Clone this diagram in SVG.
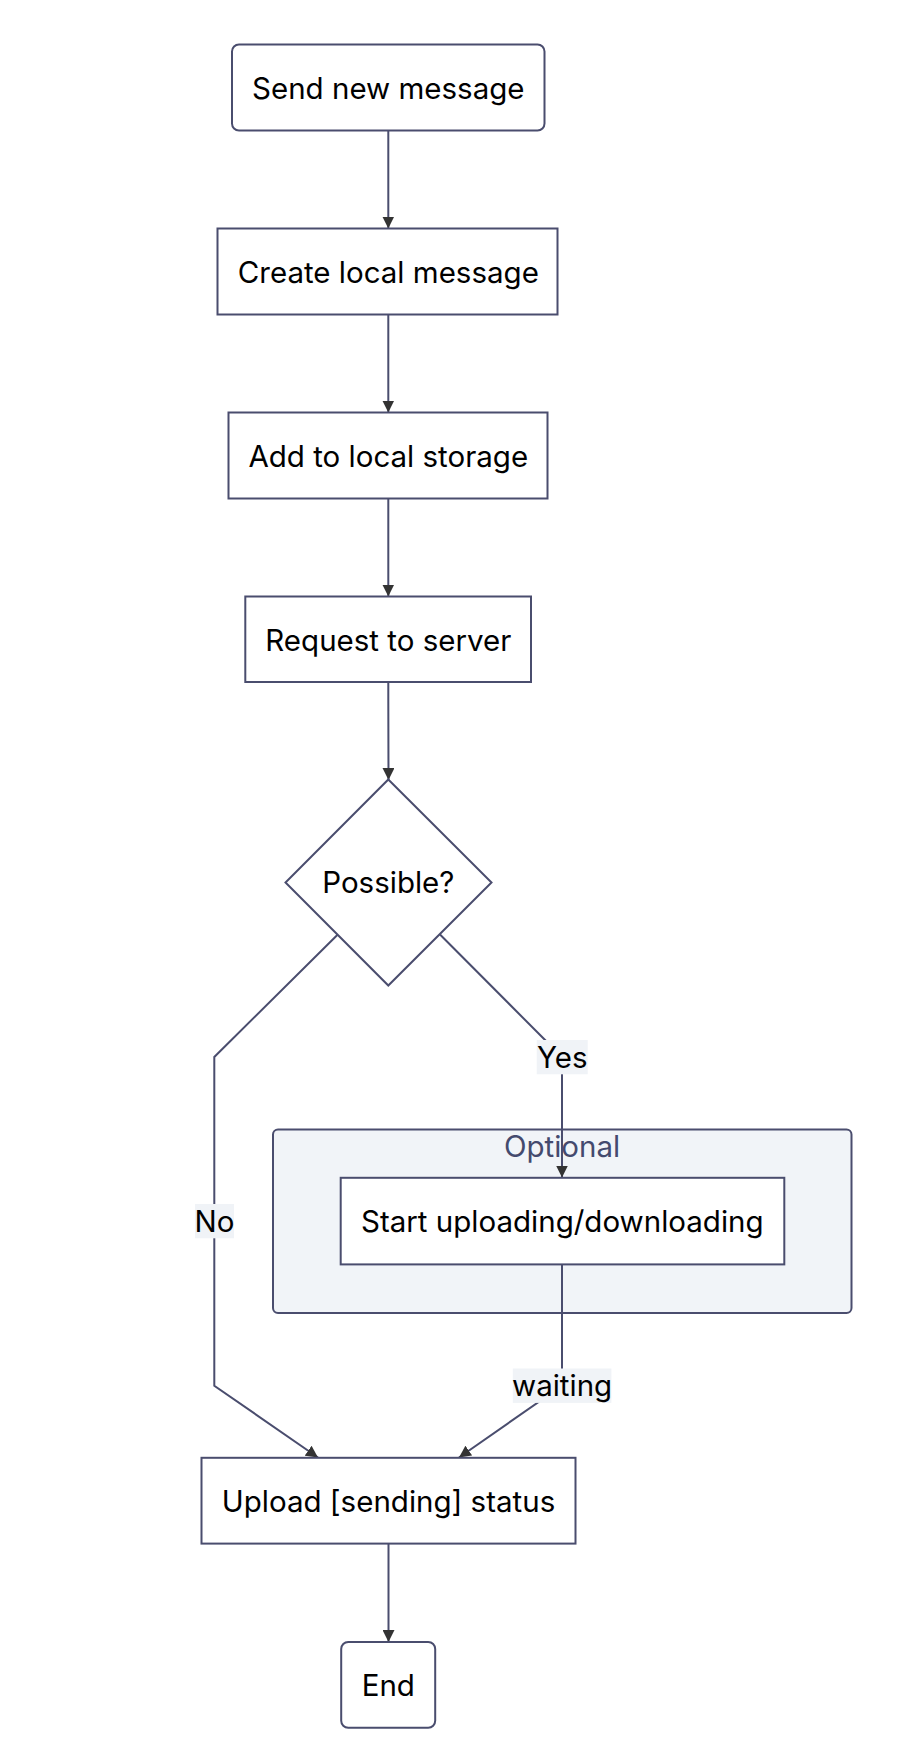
<svg xmlns="http://www.w3.org/2000/svg" width="908" height="1748" viewBox="0 0 908 1748">
<style>
.node rect, .node polygon { fill: #ffffff; stroke: #4a4d6e; stroke-width: 2; }
.cluster rect { fill: #f1f4f8; stroke: #4a4d6e; stroke-width: 2; }
.t { font-family: Inter, "Noto Sans", sans-serif; font-size: 29.5px; fill: #000000; text-anchor: middle; }
.ct { font-family: Inter, "Noto Sans", sans-serif; font-size: 29.5px; fill: #444a6e; text-anchor: middle; }
.edge { fill: none; stroke: #4a4d6e; stroke-width: 2; marker-end: url(#arrow); }
.lbg { fill: #f0f3f7; }
</style>
<defs>
<marker id="arrow" viewBox="0 0 10 10" refX="10" refY="5" markerUnits="userSpaceOnUse" markerWidth="12" markerHeight="12" orient="auto">
<path d="M0,0 L10,5 L0,10 z" fill="#333333"/>
</marker>
</defs>
<rect width="908" height="1748" fill="#ffffff"/>
<g id="cluster-optional" class="cluster">
<rect x="273" y="1129.5" width="578.5" height="183.5" rx="5"/>
<text class="ct" x="562" y="1157">Optional</text>
</g>
<g id="connectors">
<path class="edge" d="M388.3,130.5 L388.3,228.5"/>
<path class="edge" d="M388.3,314.5 L388.3,412.5"/>
<path class="edge" d="M388.3,498.5 L388.3,596.5"/>
<path class="edge" d="M388.3,682 L388.3,700 L388.5,780"/>
<path class="edge" d="M337.8,934.5 L214.3,1057 L214.3,1385.7 L318,1457.5"/>
<path class="edge" d="M440,934.5 L562,1057 L562,1177.5"/>
<path class="edge" d="M562,1264.5 L562,1385.7 L459,1457.5"/>
<path class="edge" d="M388.5,1543.6 L388.5,1642"/>
<rect class="lbg" x="536.7" y="1040" width="51" height="34.3"/>
<text class="t" x="562.2" y="1068">Yes</text>
<rect class="lbg" x="195" y="1204" width="39" height="34.3"/>
<text class="t" x="214.5" y="1232">No</text>
<rect class="lbg" x="512.8" y="1368.5" width="98.6" height="34.4"/>
<text class="t" x="562.1" y="1396">waiting</text>
</g>
<g id="node-send" class="node">
<rect x="232" y="44.5" width="312.5" height="86" rx="7"/>
<text class="t" x="388.3" y="99">Send new message</text>
</g>
<g id="node-create" class="node">
<rect x="217.5" y="228.5" width="340" height="86"/>
<text class="t" x="388.3" y="283">Create local message</text>
</g>
<g id="node-add" class="node">
<rect x="228.5" y="412.5" width="319" height="86"/>
<text class="t" x="388.3" y="467">Add to local storage</text>
</g>
<g id="node-request" class="node">
<rect x="245.3" y="596.5" width="285.7" height="85.5"/>
<text class="t" x="388.3" y="651">Request to server</text>
</g>
<g id="node-possible" class="node">
<polygon points="388.3,779.5 491.5,882.5 388.3,985.5 285.5,882.5"/>
<text class="t" x="388.3" y="893">Possible?</text>
</g>
<g id="node-start" class="node">
<rect x="340.7" y="1177.8" width="443.6" height="86.6"/>
<text class="t" x="562.3" y="1232">Start uploading/downloading</text>
</g>
<g id="node-upload" class="node">
<rect x="201.5" y="1457.8" width="374" height="85.8"/>
<text class="t" x="388.5" y="1511.5">Upload [sending] status</text>
</g>
<g id="node-end" class="node">
<rect x="341.2" y="1642" width="94" height="85.8" rx="7"/>
<text class="t" x="388.3" y="1696">End</text>
</g>
</svg>
